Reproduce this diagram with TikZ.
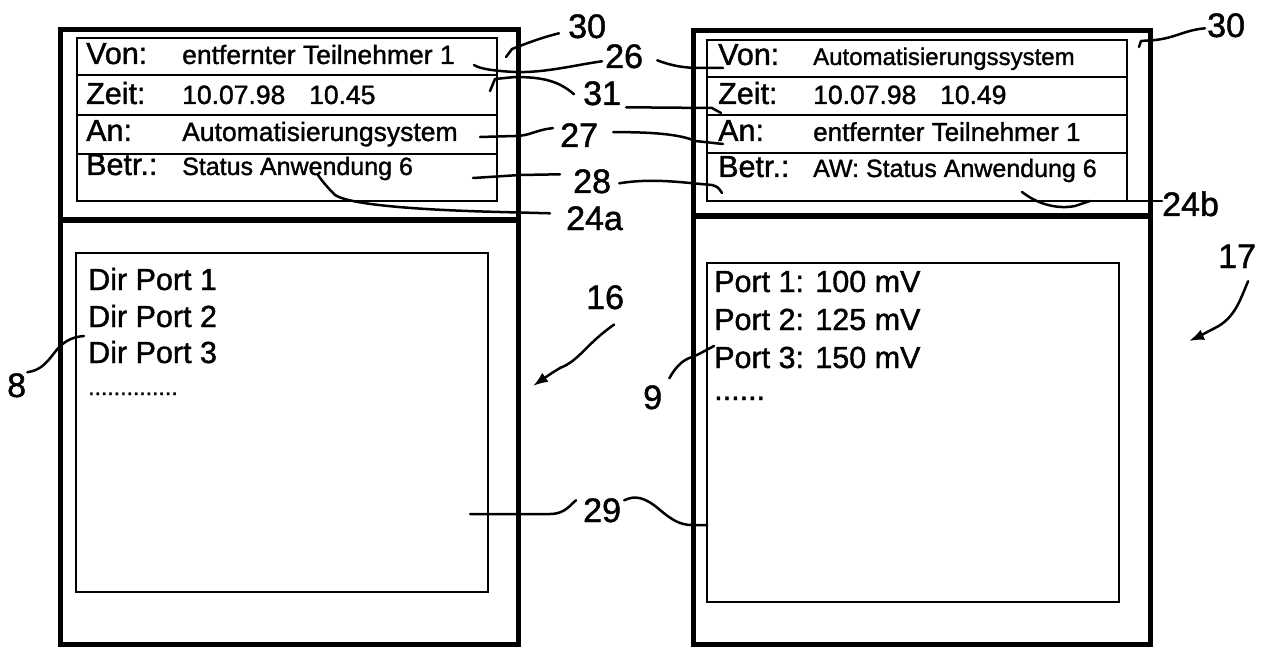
\documentclass[tikz,border=0pt]{standalone}
\usepackage{fontspec}
\setmainfont{Liberation Sans}[FakeBold=1.3]
\usetikzlibrary{arrows.meta}
\begin{document}
\begin{tikzpicture}[x=1pt,y=-1pt,
  outer/.style={line width=5pt},
  inner/.style={line width=2.8pt},
  sepline/.style={line width=5.5pt},
  lead/.style={line width=2.5pt, line cap=round, line join=round},
  arr/.style={lead, -{Latex[length=15pt,width=11pt]}},
  lbl/.style={anchor=base west, inner sep=0pt, font=\fontsize{30.5}{34}\selectfont},
  val/.style={anchor=base west, inner sep=0pt, font=\fontsize{26.5}{30}\selectfont},
  body/.style={anchor=base west, inner sep=0pt, font=\fontsize{30.5}{34}\selectfont},
  num/.style={anchor=base west, inner sep=0pt, font=\fontsize{34}{37}\selectfont},
]
\useasboundingbox (0,0) rectangle (1269,647);

% ---------------- left panel ----------------
\draw[outer] (60,30) rectangle (518,644);
\draw[sepline] (60,220) -- (518,220);
\draw[inner] (77,38) rectangle (497,201);
\draw[inner] (77,75) -- (497,75);
\draw[inner] (77,115) -- (497,115);
\draw[inner] (77,154) -- (497,154);
\draw[inner] (76,253) rectangle (488,592);

\node[lbl] (lvon) at (86,64) {Von:};
\node[val] (lvonv) at (182,64) {entfernter Teilnehmer 1};
\node[lbl] (lzeit) at (86,104) {Zeit:};
\node[val] (lzeitv) at (182,104) {10.07.98\hspace{0.9em}10.45};
\node[lbl] (lan) at (86,141) {An:};
\node[val] (lanv) at (182,141) {Automatisierungsystem};
\node[lbl] (lbetr) at (86,175) {Betr.:};
\node[val, font=\fontsize{25}{29}\selectfont] (lbetrv) at (182,175) {Status Anwendung 6};

\node[body] (ld1) at (88,290) {Dir Port 1};
\node[body] (ld2) at (88,327) {Dir Port 2};
\node[body] (ld3) at (88,363) {Dir Port 3};
\node[anchor=base west, inner sep=0pt, font=\fontsize{23}{26}\selectfont] (ldots) at (88,395) {..............};

% ---------------- right panel ----------------
\draw[outer] (693,31) rectangle (1150,644);
\draw[sepline] (693,216) -- (1150,216);
\draw[inner] (707,40) rectangle (1127,201);
\draw[inner] (707,77) -- (1127,77);
\draw[inner] (707,115) -- (1127,115);
\draw[inner] (707,153) -- (1127,153);
\draw[inner] (707,263) rectangle (1119,602);

\node[lbl] (rvon) at (718,65) {Von:};
\node[val, font=\fontsize{24}{28}\selectfont] (rvonv) at (813,65) {Automatisierungssystem};
\node[lbl] (rzeit) at (718,104) {Zeit:};
\node[val] (rzeitv) at (813,104) {10.07.98\hspace{0.9em}10.49};
\node[lbl] (ran) at (718,141) {An:};
\node[val, font=\fontsize{26}{30}\selectfont] (ranv) at (813,141) {entfernter Teilnehmer 1};
\node[lbl] (rbetr) at (718,177) {Betr.:};
\node[val, font=\fontsize{25}{29}\selectfont] (rbetrv) at (813,177) {AW: Status Anwendung 6};

\node[body] (rp1) at (714,292) {Port 1: 100 mV};
\node[body] (rp2) at (714,330) {Port 2: 125 mV};
\node[body] (rp3) at (714,368) {Port 3: 150 mV};
\node[body] (rdots) at (714,400) {......};

% ---------------- reference numerals ----------------
\node[num] (n30a) at (568,38) {30};
\node[num] (n26) at (605,68) {26};
\node[num] (n31) at (583,105) {31};
\node[num] (n27) at (560,147) {27};
\node[num] (n28) at (573,193) {28};
\node[num] (n24a) at (566,230) {24a};
\node[num] (n30b) at (1207,37) {30};
\node[num] (n24b) at (1162,216) {24b};
\node[num] (n17) at (1218,268) {17};
\node[num] (n16) at (586,309) {16};
\node[num] (n9) at (643,409) {9};
\node[num] (n8) at (7,397) {8};
\node[num] (n29) at (583,522) {29};

% free ends of leaders
\coordinate (e30a) at (506,57);
\coordinate (e26a) at (474,65);
\coordinate (e31a) at (490,91);
\coordinate (e27a) at (480,137);
\coordinate (e28a) at (473,178);
\coordinate (e24a) at (318,175);
\coordinate (e26b) at (723,68);
\coordinate (e31b) at (721,113);
\coordinate (e27b) at (723,144);
\coordinate (e28b) at (722,193);
\coordinate (e30b) at (1139,47);
\coordinate (e24b) at (1127,201);
\coordinate (e24bc) at (1022,192);
\coordinate (e16) at (533,386);
\coordinate (e17) at (1189,341);
\coordinate (e9) at (714,346);
\coordinate (e8) at (84,336);
\coordinate (e29a) at (470,514);
\coordinate (e29b) at (707,525);

% leaders, left
\draw[lead] ([shift={(-9,7)}]n30a.west) .. controls (540,38) and (525,44) .. (512,49) -- (e30a);
\draw[lead] ([shift={(-3,5)}]n26.west) .. controls (575,65) and (545,73) .. (515,72)
            .. controls (495,71) and (480,69) .. (e26a);
\draw[lead] ([shift={(-9,1)}]n31.west) .. controls (560,82) and (545,77) .. (515,77) -- (495,79) -- (e31a);
\draw[lead] ([shift={(-7,-7)}]n27.west) .. controls (535,130) and (530,136) .. (515,136) -- (e27a);
\draw[lead] ([shift={(-13,-7)}]n28.west) -- (520,175) -- (e28a);
\draw[lead] ([shift={(-16,-5)}]n24a.west) -- (500,212) .. controls (420,210) and (350,205) .. (335,195)
            .. controls (328,188) and (322,181) .. (e24a);
\draw[lead] ([shift={(-7,-10)}]n29.west) .. controls (570,505) and (565,514) .. (550,514) -- (e29a);

% leaders, right
\draw[lead] ([shift={(14,4)}]n26.east) .. controls (672,66) and (685,68) .. (700,68) -- (e26b);
\draw[lead] ([shift={(5,14)}]n31.east) -- (712,108) -- (e31b);
\draw[lead] ([shift={(15,-3)}]n27.east) .. controls (650,132) and (680,134) .. (695,141) -- (e27b);
\draw[lead] ([shift={(8,2)}]n28.east) .. controls (640,180) and (660,180) .. (690,183) -- (712,185)
            .. controls (718,187) .. (e28b);
\draw[lead] ([shift={(-2,3)}]n30b.west) .. controls (1185,30) and (1175,38) .. (1155,40) -- (1141,41) -- (e30b);
\draw[lead] (e24bc) .. controls (1040,206) and (1060,209) .. (1075,206) -- (1090,201);
\draw[lead] (e24b) -- (n24b.west |- e24b);
\draw[lead] ([shift={(3,-10)}]n29.east) .. controls (635,495) and (645,497) .. (660,510)
            .. controls (672,520) and (680,525) .. (692,525) -- (e29b);
\draw[lead] ([shift={(7,-19)}]n9.east) .. controls (675,368) and (682,360) .. (692,357)
            .. controls (700,354) and (706,350) .. (e9);
\draw[lead] ([shift={(1,-13)}]n8.east) .. controls (40,370) and (45,365) .. (55,352)
            .. controls (62,343) and (70,337) .. (e8);

% arrows 16 and 17
\draw[arr] ([shift={(9,15)}]n16.south) .. controls (585,345) and (580,360) .. (560,368)
            .. controls (550,374) and (543,379) .. (e16);
\draw[arr] ([shift={(11,13)}]n17.south) .. controls (1240,300) and (1235,318) .. (1215,328)
            .. controls (1205,333) and (1198,337) .. (e17);
\end{tikzpicture}
\end{document}
